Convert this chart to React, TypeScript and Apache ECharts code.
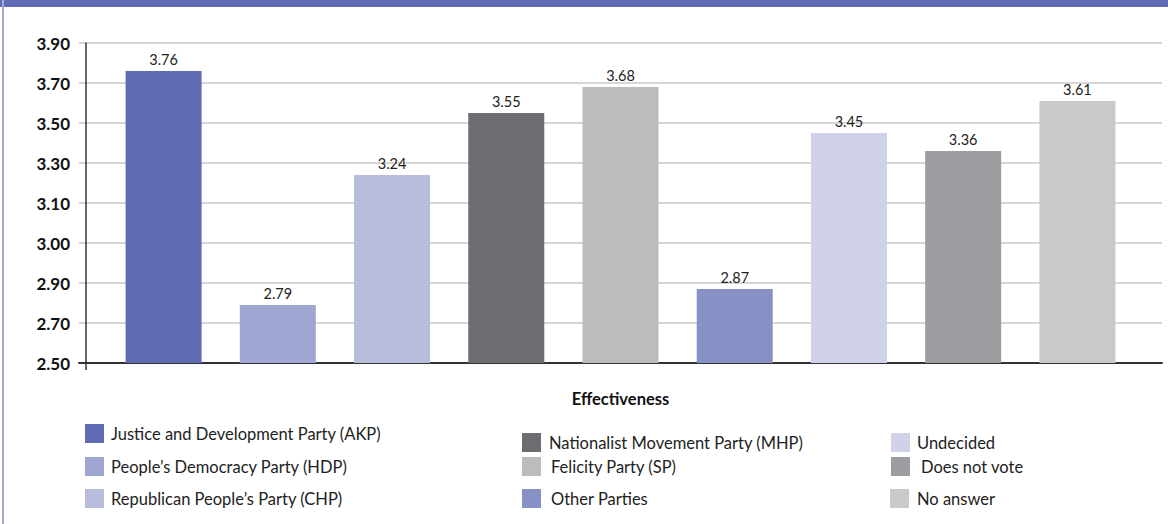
import React, { useEffect, useRef } from "react";
import * as echarts from "echarts";

// Party groups, their bar colours and mean effectiveness scores
const parties = [
  "Justice and Development Party (AKP)",
  "People’s Democracy Party (HDP)",
  "Republican People’s Party (CHP)",
  "Nationalist Movement Party (MHP)",
  "Felicity Party (SP)",
  "Other Parties",
  "Undecided",
  "Does not vote",
  "No answer",
];
const colors = [
  "#5f6cb3",
  "#a0a6d2",
  "#b8bcdd",
  "#6c6d71",
  "#bcbcbe",
  "#8891c6",
  "#d0d2e8",
  "#9c9da1",
  "#c9c9cb",
];
const scores = [3.76, 2.79, 3.24, 3.55, 3.68, 2.87, 3.45, 3.36, 3.61];
const categories = ["Effectiveness"];

// The value axis is broken into evenly spaced (but unevenly valued) steps
const tickValues = [2.5, 2.7, 2.9, 3.0, 3.1, 3.3, 3.5, 3.7, 3.9];

// Legend placement: [left, top, text padding] for each party
const legendSpots: [number, number, number][] = [
  [85, 424, 2],
  [85, 457, 2],
  [85, 489, 2],
  [522, 433, 3],
  [522, 457, 5],
  [522, 489, 5],
  [891, 433, 2],
  [891, 457, 6],
  [890, 489, 3],
];

// Map a score onto the stepped axis (one unit per tick step)
function toAxis(v: number): number {
  for (let i = 0; i < tickValues.length - 1; i++) {
    if (v <= tickValues[i + 1]) {
      return i + (v - tickValues[i]) / (tickValues[i + 1] - tickValues[i]);
    }
  }
  return tickValues.length - 1;
}

const FONT = "Lato, 'Open Sans', sans-serif";

export default function App() {
  const ref = useRef<HTMLDivElement>(null);

  useEffect(() => {
    if (!ref.current) return;
    const chart = echarts.init(ref.current, undefined, { renderer: "svg" });

    const series = parties.map((name, i) => ({
      name,
      type: "bar",
      barWidth: 76,
      barGap: "50.3%",
      itemStyle: { color: colors[i] },
      label: {
        show: true,
        position: "top",
        distance: 4,
        fontFamily: FONT,
        fontSize: 14.5,
        color: "#222",
        formatter: () => scores[i].toFixed(2),
      },
      data: [toAxis(scores[i])],
    }));

    const legends = parties.map((name, i) => ({
      data: [{ name, icon: "rect" }],
      left: legendSpots[i][0],
      top: legendSpots[i][1],
      padding: 0,
      itemGap: 0,
      itemWidth: 19,
      itemHeight: 19,
      selectedMode: false,
      textStyle: {
        fontFamily: FONT,
        fontSize: 16.5,
        color: "#222",
        padding: [0, 0, 0, legendSpots[i][2]],
      },
    }));

    chart.setOption({
      animation: false,
      backgroundColor: "#ffffff",
      grid: { left: 79, right: 6, top: 43, bottom: 161, containLabel: false },
      graphic: [
        {
          type: "rect",
          left: 0,
          top: 0,
          shape: { width: 1168, height: 7 },
          style: { fill: "#5f6cb3" },
        },
        {
          type: "rect",
          left: 2,
          top: 0,
          shape: { width: 2, height: 524 },
          style: { fill: "#a3a8d6" },
        },
        {
          // short stub of the value axis below the baseline
          type: "rect",
          left: 85.3,
          top: 363,
          shape: { width: 1.5, height: 7 },
          style: { fill: "#333" },
        },
      ],
      legend: legends,
      xAxis: {
        type: "category",
        data: categories,
        axisLine: { lineStyle: { color: "#333", width: 2 } },
        axisTick: { show: false },
        axisLabel: {
          margin: 27,
          fontFamily: FONT,
          fontSize: 16.5,
          fontWeight: "bold",
          color: "#111",
        },
      },
      yAxis: {
        type: "value",
        min: 0,
        max: tickValues.length - 1,
        interval: 1,
        offset: -7,
        axisLine: { show: true, lineStyle: { color: "#333", width: 1.5 } },
        axisTick: { show: false },
        splitLine: { lineStyle: { color: "#c8c8c8", width: 1.5 } },
        axisLabel: {
          margin: 16,
          fontFamily: FONT,
          fontSize: 17,
          fontWeight: "bold",
          color: "#111",
          formatter: (v: number) => {
            const t = tickValues[Math.round(v)];
            return t === undefined ? "" : t.toFixed(2);
          },
        },
      },
      series,
    });

    return () => chart.dispose();
  }, []);

  return (
    <div
      ref={ref}
      style={{ position: "fixed", left: 0, top: 0, width: 1168, height: 524 }}
    />
  );
}
